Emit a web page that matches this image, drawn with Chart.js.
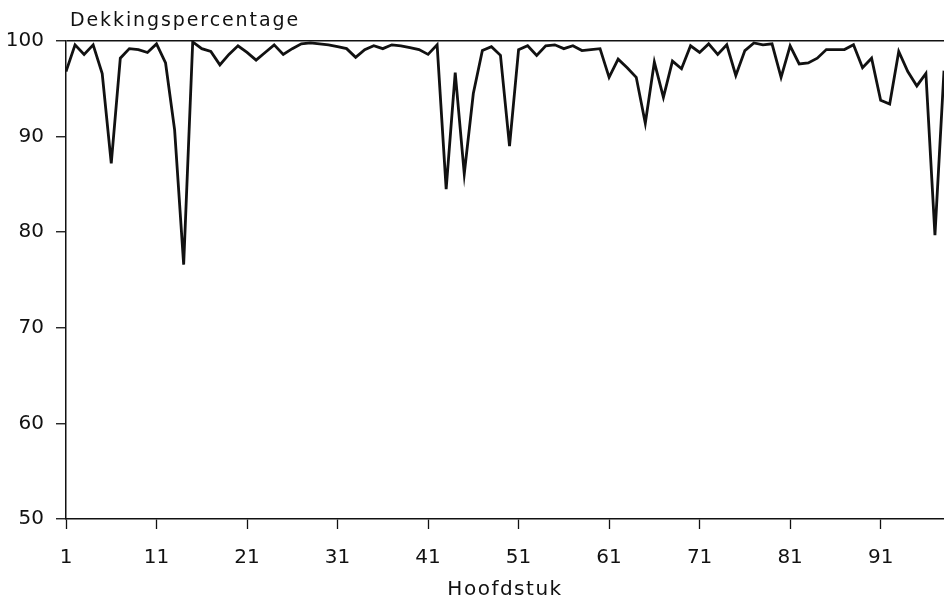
<!DOCTYPE html>
<html>
<head>
<meta charset="utf-8">
<script src="https://cdn.jsdelivr.net/npm/chart.js@4/dist/chart.umd.min.js"></script>
<style>
  html, body { margin: 0; padding: 0; background: #fff; }
  #wrap { width: 944px; height: 605px; position: relative; }
</style>
</head>
<body>
<div id="wrap"><canvas id="chart"></canvas></div>
<script>
// hoofdstuk 1..98
const chapters = [];
for (let i = 1; i <= 98; i++) chapters.push(i);

const coverage = [
    96.8, 99.6, 98.6, 99.6, 96.6, 87.2, 98.2, 99.2, 99.1, 98.8,
    99.7, 97.7, 90.7, 76.6, 99.9, 99.2, 98.9, 97.5, 98.6, 99.5,
    98.8, 98.0, 98.8, 99.6, 98.6, 99.2, 99.7, 99.8, 99.7, 99.6,
    99.4, 99.2, 98.3, 99.1, 99.5, 99.2, 99.6, 99.5, 99.3, 99.1,
    98.6, 99.6, 84.5, 96.7, 86.1, 94.5, 99.0, 99.4, 98.5, 89.0,
    99.1, 99.5, 98.5, 99.5, 99.6, 99.2, 99.5, 99.0, 99.1, 99.2,
    96.2, 98.1, 97.2, 96.2, 91.4, 97.8, 94.1, 97.9, 97.1, 99.5,
    98.8, 99.7, 98.6, 99.6, 96.4, 99.0, 99.8, 99.6, 99.7, 96.2,
    99.5, 97.6, 97.7, 98.2, 99.1, 99.1, 99.1, 99.6, 97.2, 98.2,
    93.8, 93.4, 98.9, 96.8, 95.3, 96.6, 79.7, 96.9
];

const xTicks = [1, 11, 21, 31, 41, 51, 61, 71, 81, 91];
const yTicks = [50, 60, 70, 80, 90, 100];

const FONT = '"DejaVu Sans", sans-serif';

// header and axis title, drawn with a bit of letter spacing (wide face in original)
const labelText = {
    id: 'labelText',
    afterDraw(chart) {
        const ctx = chart.ctx;
        const area = chart.chartArea;
        ctx.save();
        ctx.fillStyle = '#111';
        ctx.font = '19px ' + FONT;
        ctx.letterSpacing = '1.9px';
        ctx.textBaseline = 'alphabetic';
        ctx.textAlign = 'left';
        ctx.fillText('Dekkingspercentage', area.left + 4, 26);
        ctx.font = '20px ' + FONT;
        ctx.letterSpacing = '1.5px';
        ctx.textAlign = 'center';
        ctx.textBaseline = 'middle';
        ctx.fillText('Hoofdstuk', (area.left + area.right) / 2, 590);
        ctx.restore();
    }
};

new Chart(document.getElementById('chart'), {
    type: 'line',
    data: {
        datasets: [{
            data: chapters.map((c, i) => ({ x: c, y: coverage[i] })),
            borderColor: '#111',
            borderWidth: 2.8,
            pointRadius: 0,
            tension: 0,
            fill: false
        }]
    },
    options: {
        responsive: true,
        maintainAspectRatio: false,
        animation: false,
        layout: { padding: { top: 41, right: 0, left: 0, bottom: 0 } },
        plugins: {
            legend: { display: false },
            tooltip: { enabled: false }
        },
        scales: {
            x: {
                type: 'linear',
                min: 1,
                max: 98,
                afterBuildTicks: (axis) => { axis.ticks = xTicks.map(v => ({ value: v })); },
                afterFit: (axis) => { axis.height = 86; },
                grid: {
                    drawOnChartArea: false,
                    drawTicks: true,
                    tickLength: 10,
                    tickColor: '#111',
                    tickWidth: 1.3
                },
                border: { color: '#111', width: 1.5 },
                ticks: {
                    color: '#111',
                    font: { family: FONT, size: 20 },
                    padding: 17,
                    maxRotation: 0,
                    autoSkip: false
                }
            },
            y: {
                min: 50,
                max: 100,
                afterBuildTicks: (axis) => { axis.ticks = yTicks.map(v => ({ value: v })); },
                afterFit: (axis) => { axis.width = 66; },
                grid: {
                    color: (c) => c.tick && c.tick.value === 100 ? '#111' : 'rgba(0,0,0,0)',
                    lineWidth: 1.5,
                    drawTicks: true,
                    tickLength: 10,
                    tickColor: '#111',
                    tickWidth: 1.3
                },
                border: { color: '#111', width: 1.5 },
                ticks: {
                    color: '#111',
                    font: { family: FONT, size: 20 },
                    padding: 12
                }
            }
        }
    },
    plugins: [labelText]
});
</script>
</body>
</html>
